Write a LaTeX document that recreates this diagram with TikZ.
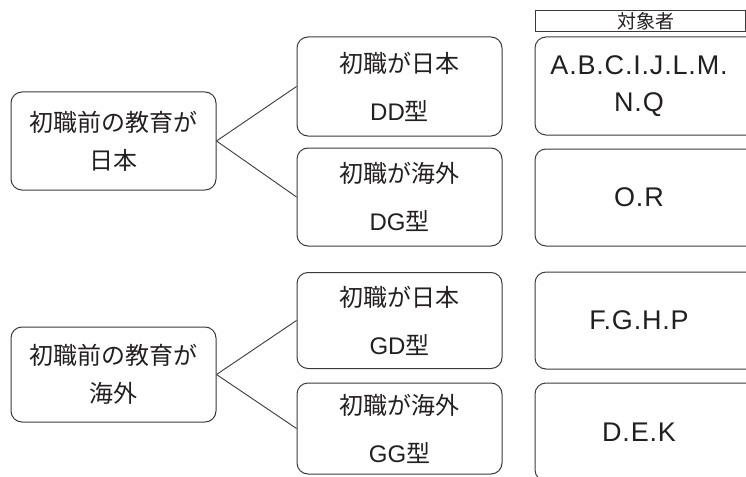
\documentclass[tikz,border=0pt]{standalone}
\usepackage{fontspec}
\setmainfont{Liberation Sans}
\newfontfamily\wide{Liberation Sans}[LetterSpace=3]
\newfontfamily\jp{Noto Sans CJK JP}
\definecolor{ink}{HTML}{231F20}
\definecolor{edge}{HTML}{3A3A3A}
\begin{document}
\begin{tikzpicture}[x=1pt,y=-1pt,
  every node/.style={text=ink},
  box/.style={draw=edge, line width=1pt, rounded corners=11pt, inner sep=0pt},
  leftbox/.style={box, minimum width=205pt, align=center, font=\jp\fontsize{24}{38}\selectfont},
  midbox/.style={box, minimum width=205pt, align=center, font=\fontsize{24}{48}\selectfont},
  rightbox/.style={box, minimum width=230pt, font=\wide\fontsize{27}{37}\selectfont},
  headbox/.style={draw=edge, line width=0.8pt, minimum width=210pt, minimum height=21pt, inner sep=0pt, font=\jp\fontsize{19}{19}\selectfont},
  conn/.style={draw=edge, line width=0.9pt},
]
\useasboundingbox (0,0) rectangle (746,476);
\clip (0,0) rectangle (746,476);

% left boxes
\node[leftbox, minimum height=98pt] (l1) at (113.5,141) {初職前の教育が\\日本};
\node[leftbox, minimum height=95pt] (l2) at (113.5,374.5) {初職前の教育が\\海外};

% middle boxes
\node[midbox, minimum height=99pt] (m1) at (399.5,86.5) {{\jp 初職が日本}\\DD{\jp 型}};
\node[midbox, minimum height=98pt] (m2) at (399.5,197) {{\jp 初職が海外}\\DG{\jp 型}};
\node[midbox, minimum height=96pt] (m3) at (399.5,320.5) {{\jp 初職が日本}\\GD{\jp 型}};
\node[midbox, minimum height=91pt] (m4) at (399.5,428.5) {{\jp 初職が海外}\\GG{\jp 型}};

% header
\node[headbox] (hd) at (640,21) {\hspace*{12pt}対象者};

% right boxes
\node[rightbox, minimum height=98pt] (r1) at (650,86) {\begin{tabular}{@{}c@{}}A.B.C.I.J.L.M.\\N.Q\end{tabular}\hspace*{22pt}};
\node[rightbox, minimum height=97pt] (r2) at (650,197.5) {O.R\hspace*{22pt}};
\node[rightbox, minimum height=97pt] (r3) at (650,320.5) {F.G.H.P\hspace*{22pt}};
\node[rightbox, minimum height=98pt] (r4) at (650,432) {D.E.K\hspace*{22pt}};

% connectors
\draw[conn] (l1.east) -- (m1.west);
\draw[conn] (l1.east) -- (m2.west);
\draw[conn] (l2.east) -- (m3.west);
\draw[conn] (l2.east) -- (m4.west);
\end{tikzpicture}
\end{document}
